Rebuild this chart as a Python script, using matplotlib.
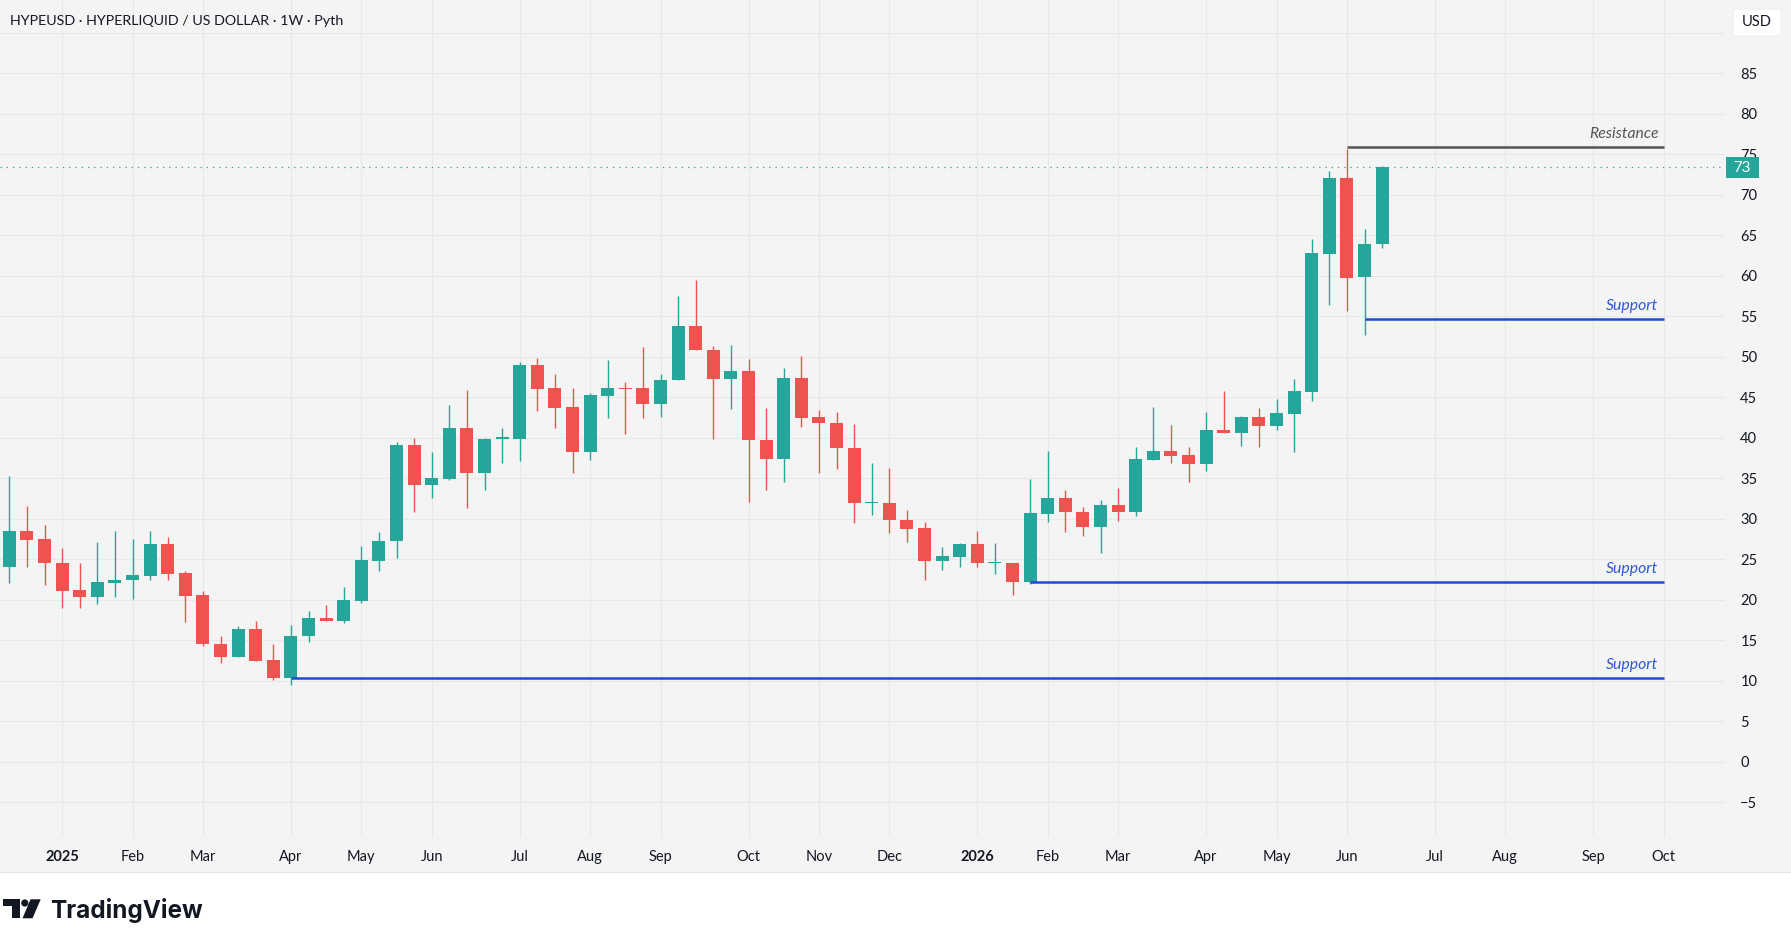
import matplotlib
matplotlib.use("Agg")
import matplotlib.pyplot as plt
from matplotlib.patches import Rectangle, FancyBboxPatch, Circle, Polygon
from matplotlib.transforms import IdentityTransform
import pandas as pd

plt.rcParams['font.family'] = ['Lato', 'DejaVu Sans']

# ---------------- data ----------------
start_week = "2024-12-16"
opens  = [24.0, 28.5, 27.5, 24.5, 21.2, 20.3, 22.1, 22.4, 23.0, 26.9,
          23.3, 20.6, 14.5, 13.0, 16.4, 12.6, 10.3, 15.5, 17.76, 17.4,
          19.9, 24.8, 27.2, 39.1, 34.2, 34.9, 41.2, 35.7, 39.9, 39.9,
          49.0, 46.1, 43.8, 38.2, 45.2, 46.15, 46.1, 44.2, 47.1, 53.8,
          50.8, 47.2, 48.3, 39.7, 37.4, 47.4, 42.6, 41.8, 38.7, 31.9,
          31.95, 29.9, 28.9, 24.8, 25.3, 26.9, 24.5, 24.55, 22.2, 30.6,
          32.6, 30.8, 29.0, 31.7, 30.8, 37.3, 38.4, 37.9, 36.8, 41.0,
          40.6, 42.6, 41.5, 42.9, 45.7, 62.7, 72.1, 59.8, 63.9]
highs  = [35.3, 31.6, 29.2, 26.4, 24.5, 27.1, 28.5, 27.5, 28.5, 27.8,
          23.6, 21.1, 15.5, 16.8, 17.4, 14.6, 16.9, 18.6, 19.4, 21.6,
          26.6, 28.4, 39.5, 40.0, 38.3, 44.1, 45.9, 40.0, 41.2, 49.4,
          49.9, 47.9, 46.1, 45.5, 49.6, 46.9, 51.2, 47.9, 57.5, 59.5,
          51.3, 51.5, 49.7, 43.7, 48.6, 50.1, 43.4, 43.2, 41.7, 36.9,
          36.3, 31.1, 29.6, 26.5, 27.0, 28.5, 27.0, 24.6, 34.9, 38.4,
          33.6, 31.5, 32.3, 33.8, 38.9, 43.8, 41.6, 38.9, 43.2, 45.8,
          42.7, 43.7, 44.8, 47.3, 64.6, 72.9, 75.7, 65.8, 73.6]
lows   = [22.1, 24.1, 21.8, 19.0, 19.0, 19.5, 20.3, 20.1, 22.4, 22.5,
          17.2, 14.3, 12.2, 13.0, 12.4, 10.1, 9.5, 14.8, 17.4, 17.1,
          19.6, 23.5, 25.2, 30.8, 32.6, 34.8, 31.3, 33.5, 36.9, 37.1,
          43.3, 41.2, 35.7, 37.2, 42.4, 40.5, 42.5, 42.6, 47.1, 50.8,
          39.9, 43.6, 32.1, 33.5, 34.6, 41.3, 35.7, 36.2, 29.5, 30.5,
          28.3, 27.1, 22.4, 23.7, 24.0, 24.0, 23.2, 20.6, 22.0, 29.6,
          28.4, 27.9, 25.8, 29.7, 30.4, 37.3, 36.9, 34.6, 35.9, 40.6,
          39.0, 38.9, 41.0, 38.3, 44.5, 56.4, 55.6, 52.7, 63.4]
closes = [28.5, 27.4, 24.5, 21.1, 20.3, 22.2, 22.5, 23.1, 26.9, 23.2,
          20.5, 14.5, 13.0, 16.4, 12.5, 10.3, 15.5, 17.8, 17.43, 20.0,
          24.9, 27.3, 39.1, 34.2, 35.0, 41.2, 35.7, 39.9, 40.0, 49.0,
          46.0, 43.7, 38.2, 45.3, 46.1, 46.05, 44.2, 47.1, 53.8, 50.8,
          47.2, 48.3, 39.7, 37.4, 47.4, 42.5, 41.8, 38.7, 31.9, 31.95,
          29.8, 28.8, 24.8, 25.4, 26.9, 24.5, 24.55, 22.2, 30.7, 32.6,
          30.8, 29.0, 31.7, 30.8, 37.4, 38.4, 37.8, 36.8, 41.0, 40.6,
          42.6, 41.5, 43.1, 45.8, 62.8, 72.1, 59.7, 63.9, 73.4]

month_ticks = ["2025-01-06", "2025-02-03", "2025-03-03", "2025-04-07", "2025-05-05",
               "2025-06-02", "2025-07-07", "2025-08-04", "2025-09-01", "2025-10-06",
               "2025-11-03", "2025-12-01", "2026-01-05", "2026-02-02", "2026-03-02",
               "2026-04-06", "2026-05-04", "2026-06-01", "2026-07-06", "2026-08-03",
               "2026-09-07", "2026-10-05"]
month_labels = ["2025", "Feb", "Mar", "Apr", "May", "Jun", "Jul", "Aug", "Sep", "Oct",
                "Nov", "Dec", "2026", "Feb", "Mar", "Apr", "May", "Jun", "Jul", "Aug",
                "Sep", "Oct"]

price_ticks = [-5, 0, 5, 10, 15, 20, 25, 30, 35, 40, 45, 50, 55, 60, 65, 70, 75, 80, 85, 90]

ray_names  = ["Resistance", "Support", "Support", "Support"]
ray_start  = ["2026-06-01", "2026-06-08", "2026-01-26", "2025-04-07"]
ray_levels = [75.9, 54.7, 22.2, 10.4]
ray_end    = "2026-10-05"

last_price = 73.4
title = "HYPEUSD · HYPERLIQUID / US DOLLAR · 1W · Pyth"

# ---------------- helpers ----------------
t0 = pd.Timestamp(start_week)
def wk(d):
    return (pd.Timestamp(d) - t0).days / 7.0

W, H = 1791, 947
def fx(x): return x / W
def fy(y): return 1 - y / H

UP, DOWN = "#26A69A", "#EF5350"
BG = "#F4F4F4"
TXT = "#131722"

fig = plt.figure(figsize=(W / 100, H / 100), dpi=100)
fig.patch.set_facecolor("white")
fig.patches.append(Rectangle((0, fy(872)), 1, 1 - fy(872), transform=fig.transFigure,
                             facecolor=BG, edgecolor="none", zorder=-10))
fig.lines.append(plt.Line2D([0, 1], [fy(872), fy(872)], transform=fig.transFigure,
                            color="#E6E6E6", lw=1, zorder=-9))

ax = fig.add_axes([0, fy(837), fx(1725), 837 / H])
ax.set_facecolor(BG)
for s in ax.spines.values():
    s.set_visible(False)

px_per_week = 17.6
ax.set_xlim(-9.3 / px_per_week, (1725 - 9.3) / px_per_week)
y_top = 85 + 73.3 / 8.1
y_bot = 85 - (837 - 73.3) / 8.1
ax.set_ylim(y_bot, y_top)

# candles
n = len(opens)
xs = list(range(n))
for i in xs:
    o, h, l, c = opens[i], highs[i], lows[i], closes[i]
    col = UP if c >= o else DOWN
    ax.vlines(i, l, h, color=col, lw=1.0, zorder=3)
    ax.bar(i, max(abs(c - o), 0.14), bottom=min(o, c), width=0.74, color=col,
           linewidth=0, zorder=4)

# grid
ax.set_yticks(price_ticks)
ax.set_xticks([wk(d) for d in month_ticks])
ax.grid(True, color="#E8E8E8", lw=0.8, zorder=0)
ax.set_axisbelow(True)

ax.yaxis.tick_right()
ax.set_yticklabels([("" if p == 90 else str(p).replace("-", "\u2212")) for p in price_ticks])
ax.tick_params(axis="y", length=0, pad=11, labelsize=10.5, labelcolor=TXT)
ax.set_xticklabels(month_labels)
ax.tick_params(axis="x", length=0, pad=9.5, labelsize=10.5, labelcolor=TXT)
for lab in ax.get_xticklabels():
    if lab.get_text().isdigit():
        lab.set_fontweight("bold")

# rays
x_end = wk(ray_end)
for name, s, lev in zip(ray_names, ray_start, ray_levels):
    if name == "Resistance":
        lc, tc = "#555555", "#555555"
    else:
        lc, tc = "#1C4AD6", "#2B59D9"
    ax.plot([wk(s), x_end], [lev, lev], color=lc, lw=1.8, zorder=5, solid_capstyle="butt")
    ax.text(x_end - 0.3, lev + 1.55, name, ha="right", va="center", fontsize=11.3,
            style="italic", color=tc, zorder=6)

# last price line
ax.axhline(last_price, color=UP, lw=0.9, linestyle=(0, (1, 4)), zorder=2)

# last price label
fig.patches.append(Rectangle((fx(1726), fy(178)), fx(33), 21 / H, transform=fig.transFigure,
                             facecolor=UP, edgecolor="none", zorder=10))
fig.text(fx(1742.5), fy(167.5), f"{last_price:.0f}", color="white", fontsize=10.8,
         ha="center", va="center", zorder=11)

# USD box
fig.patches.append(FancyBboxPatch((fx(1733), fy(36)), fx(48), 27 / H,
                                  boxstyle="round,pad=0.0,rounding_size=0.003",
                                  transform=fig.transFigure, facecolor="white",
                                  edgecolor="#EEEEEE", lw=0.8, zorder=10))
fig.text(fx(1757), fy(22), "USD", color=TXT, fontsize=10.5, ha="center", va="center", zorder=11)

# title
fig.text(fx(10), fy(21), title, color=TXT, fontsize=10.3, ha="left", va="center")

# TradingView logo
tr = IdentityTransform()
def P(x, y): return (x, H - y)
logo_c = "#131722"
fig.patches.append(Polygon([P(3.3, 899.3), P(20, 899.3), P(20, 918.3), P(11.7, 918.3),
                            P(11.7, 906), P(3.3, 906)], closed=True, transform=tr,
                           facecolor=logo_c, edgecolor="none"))
fig.patches.append(Circle(P(24.8, 903), 3.6, transform=tr, facecolor=logo_c, edgecolor="none"))
fig.patches.append(Polygon([P(30.5, 899.3), P(40.7, 899.3), P(32.5, 918.3), P(22.5, 918.3)],
                           closed=True, transform=tr, facecolor=logo_c, edgecolor="none"))
fig.text(fx(50), fy(918.3), "TradingView", fontsize=17.5, fontweight="bold",
         family=["Inter", "DejaVu Sans"], color=logo_c, ha="left", va="baseline")

fig.savefig("out.png", dpi=100, facecolor=fig.get_facecolor())
